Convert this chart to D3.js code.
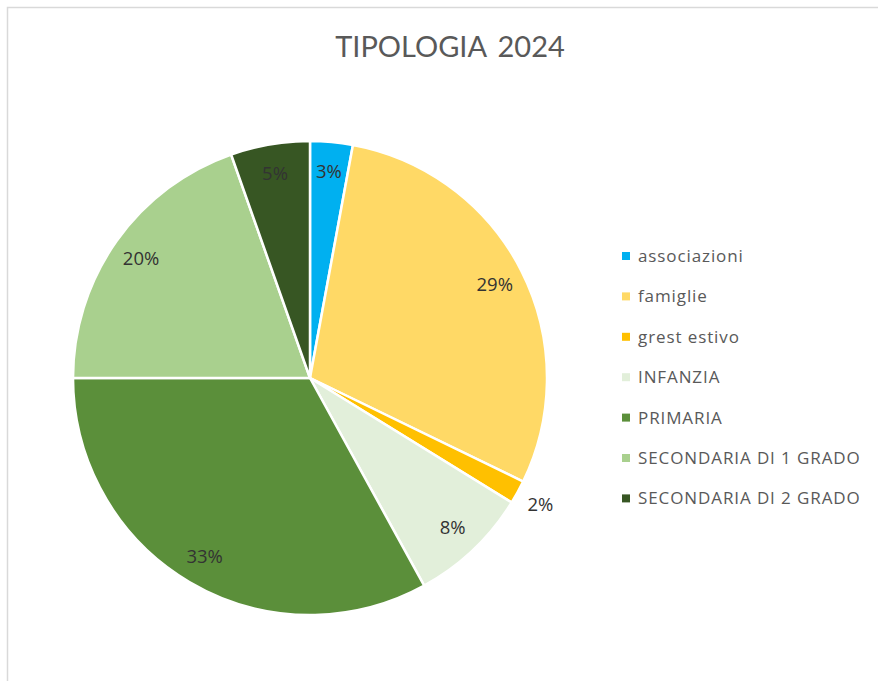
<!DOCTYPE html>
<html>
<head>
<meta charset="utf-8">
<script src="https://cdn.jsdelivr.net/npm/d3@7"></script>
<style>
  body { margin: 0; background: #fff; }
  text { font-family: "Open Sans", Lato, sans-serif; }
</style>
</head>
<body>
<div id="root"></div>
<script>
// data
var categories = ["associazioni", "famiglie", "grest estivo", "INFANZIA", "PRIMARIA", "SECONDARIA DI 1 GRADO", "SECONDARIA DI 2 GRADO"];
var shares = [2.9, 29.3, 1.6, 8.2, 33.0, 19.6, 5.4];
var labels = ["3%", "29%", "2%", "8%", "33%", "20%", "5%"];
var colors = ["#00b0f0", "#ffd966", "#ffc000", "#e2efda", "#5b8f3a", "#a9d08e", "#375623"];

var w = 878, h = 681;
var cx = 310, cy = 378, r = 237;

var svg = d3.select("#root").append("svg").attr("width", w).attr("height", h);

// chart frame
svg.append("rect").attr("x", 7.5).attr("y", 7.5).attr("width", w + 20).attr("height", h + 20)
  .attr("fill", "#fff").attr("stroke", "#d9d9d9").attr("stroke-width", 1.5);

// title
svg.append("text").attr("x", 450).attr("y", 57).attr("text-anchor", "middle")
  .style("font-family", "Lato, sans-serif")
  .style("font-size", "29px").style("word-spacing", "4px").attr("fill", "#595959").text("TIPOLOGIA 2024");

var data = categories.map(function(c, i) {
  return { name: c, value: shares[i], label: labels[i], color: colors[i] };
});

var pie = d3.pie().sort(null).value(function(d) { return d.value; });
var arc = d3.arc().innerRadius(0).outerRadius(r);
var labelArc = d3.arc().innerRadius(207).outerRadius(207);
var outerLabelArc = d3.arc().innerRadius(263).outerRadius(263);

var g = svg.append("g").attr("transform", "translate(" + cx + "," + cy + ")");
var arcs = pie(data);

g.selectAll("path").data(arcs).enter().append("path")
  .attr("d", arc)
  .attr("fill", function(d) { return d.data.color; })
  .attr("stroke", "#fff").attr("stroke-width", 2.5).attr("stroke-linejoin", "round");

g.selectAll("text.lbl").data(arcs).enter().append("text")
  .attr("class", "lbl")
  .attr("transform", function(d) {
    var small = d.data.value < 2.5;
    var p = small ? outerLabelArc.centroid(d) : labelArc.centroid(d);
    return "translate(" + p + ")";
  })
  .attr("text-anchor", "middle").attr("dy", "0.35em")
  .style("font-size", "18.5px").attr("fill", "#333333")
  .text(function(d) { return d.data.label; });

// legend
var legend = svg.append("g").attr("transform", "translate(622,256)");
var item = legend.selectAll("g").data(data).enter().append("g")
  .attr("transform", function(d, i) { return "translate(0," + (i * 40.4) + ")"; });
item.append("rect").attr("x", 0).attr("y", -4).attr("width", 8).attr("height", 8)
  .attr("fill", function(d) { return d.color; });
item.append("text").attr("x", 16).attr("dy", "0.35em")
  .style("font-size", "17px").style("letter-spacing", "0.9px").attr("fill", "#595959")
  .text(function(d) { return d.name; });
</script>
</body>
</html>
